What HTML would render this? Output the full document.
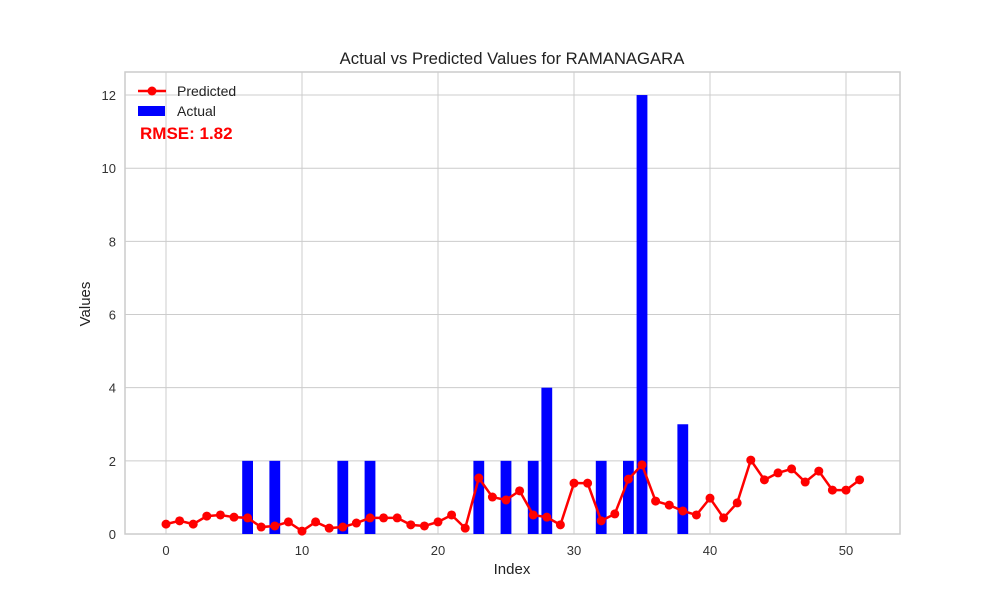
<!DOCTYPE html>
<html><head><meta charset="utf-8"><style>
body{margin:0;background:#fff;font-family:"Liberation Sans",sans-serif}
</style></head><body>
<svg id="c" width="1000" height="600" xmlns="http://www.w3.org/2000/svg"></svg>
<script>
const idx=[];for(let i=0;i<52;i++)idx.push(i);
const actual=[0,0,0,0,0,0,2,0,2,0,0,0,0,2,0,2,0,0,0,0,0,0,0,2,0,2,0,2,4,0,0,0,2,0,2,12,0,0,3,0,0,0,0,0,0,0,0,0,0,0,0,0];
const predicted=[.27,.36,.27,.49,.52,.46,.44,.19,.22,.33,.08,.33,.16,.19,.3,.44,.44,.44,.25,.22,.33,.52,.16,1.53,1.01,.93,1.18,.52,.46,.25,1.39,1.39,.36,.55,1.5,1.89,.9,.79,.63,.52,.98,.44,.85,2.02,1.48,1.67,1.78,1.42,1.72,1.2,1.2,1.48];
const xTicks=[0,10,20,30,40,50];
const yTicks=[0,2,4,6,8,10,12];
const L=125,R=900,T=72,B=534;
const X=v=>166+v*13.6;
const Y=v=>534-v*36.58;
const s=document.getElementById('c');const NS='http://www.w3.org/2000/svg';
function el(t,a,p){const e=document.createElementNS(NS,t);for(const k in a)e.setAttribute(k,a[k]);(p||s).appendChild(e);return e;}
el('rect',{x:L,y:T,width:R-L,height:B-T,fill:'#fff',stroke:'#ccc','stroke-width':1.5});
xTicks.forEach(t=>{const g=el('line',{x1:X(t),x2:X(t),y1:T,y2:B,stroke:'#ccc'});

const tx=el('text',{x:X(t),y:555,'text-anchor':'middle','font-size':13,fill:'#333'});tx.textContent=t;
});
yTicks.forEach(t=>{const g=el('line',{x1:L,x2:R,y1:Y(t),y2:Y(t),stroke:'#ccc'});

const tx=el('text',{x:116,y:Y(t)+5,'text-anchor':'end','font-size':13,fill:'#333'});tx.textContent=t;
});
idx.forEach((i,k)=>{if(actual[k]>0){const b=el('rect',{x:X(i)-5.4,y:Y(actual[k]),width:10.8,height:Y(0)-Y(actual[k]),fill:'#0000ff'});
}});
const pl=el('polyline',{points:idx.map((i,k)=>X(i)+','+Y(predicted[k])).join(' '),fill:'none',stroke:'#ff0000','stroke-width':2.5});

idx.forEach((i,k)=>{const c=el('circle',{cx:X(i),cy:Y(predicted[k]),r:4.5,fill:'#ff0000'});
});
function txt(x,y,str,a,name){const t=el('text',a);t.setAttribute('x',x);t.setAttribute('y',y);t.textContent=str;return t;}
txt(512,64,'Actual vs Predicted Values for RAMANAGARA',{'text-anchor':'middle','font-size':16.7,fill:'#222'},'chart-title');
txt(512,574,'Index',{'text-anchor':'middle','font-size':15,fill:'#222'},'x-axis-title');
const yt=txt(0,0,'Values',{'text-anchor':'middle','font-size':15,fill:'#222',transform:'translate(90,304) rotate(-90)'},'y-axis-title');
const lg=el('g',{});
el('line',{x1:138,x2:166,y1:91,y2:91,stroke:'#ff0000','stroke-width':2.5},lg);
el('circle',{cx:152,cy:91,r:4.5,fill:'#ff0000'},lg);
el('rect',{x:138,y:106,width:27,height:10,fill:'#0000ff'},lg);
txt(177,96,'Predicted',{'font-size':14,fill:'#222'},'legend-predicted');
txt(177,116,'Actual',{'font-size':14,fill:'#222'},'legend-actual');
txt(140,139,'RMSE: 1.82',{'font-size':17,'font-weight':'bold',fill:'#ff0000'},'rmse-label');
</script>
</body></html>
